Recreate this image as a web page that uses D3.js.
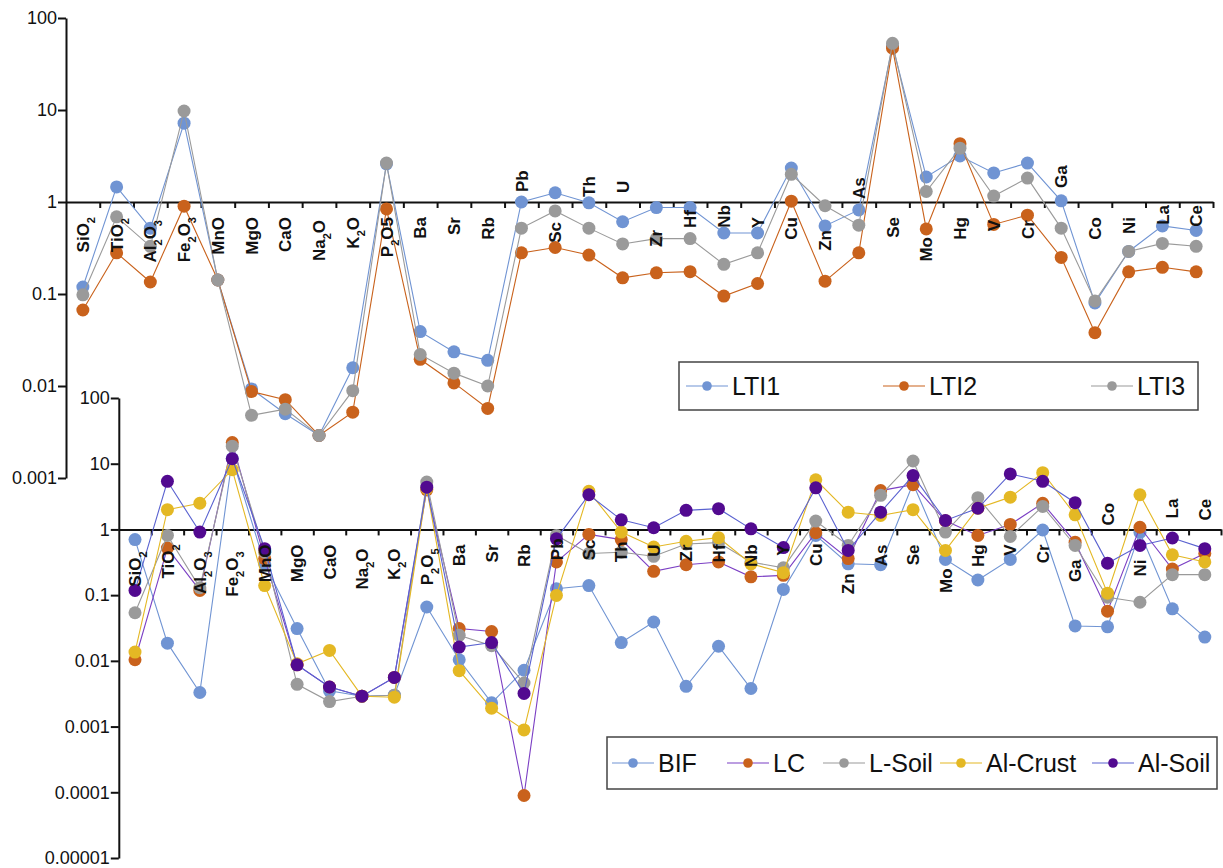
<!DOCTYPE html>
<html>
<head>
<meta charset="utf-8">
<script src="https://cdn.jsdelivr.net/npm/d3@7"></script>
<style>
  body { margin: 0; background: #fff; }
  svg { display: block; font-family: "Liberation Sans", Arial, sans-serif; }
</style>
</head>
<body>
<div id="vizcontainer"></div>
<script>
const categories = ['SiO2', 'TiO2', 'Al2O3', 'Fe2O3', 'MnO', 'MgO', 'CaO', 'Na2O', 'K2O', 'P2O5', 'Ba', 'Sr', 'Rb', 'Pb', 'Sc', 'Th', 'U', 'Zr', 'Hf', 'Nb', 'Y', 'Cu', 'Zn', 'As', 'Se', 'Mo', 'Hg', 'V', 'Cr', 'Ga', 'Co', 'Ni', 'La', 'Ce'];
// "_" marks the next character as a subscript
const topLabels = ['SiO_2', 'TiO_2', 'Al_2O_3', 'Fe_2O_3', 'MnO', 'MgO', 'CaO', 'Na_2O', 'K_2O', 'P_2O5', 'Ba', 'Sr', 'Rb', 'Pb', 'Sc', 'Th', 'U', 'Zr', 'Hf', 'Nb', 'Y', 'Cu', 'Zn', 'As', 'Se', 'Mo', 'Hg', 'V', 'Cr', 'Ga', 'Co', 'Ni', 'La', 'Ce'];
const bottomLabels = ['SiO_2', 'TiO_2', 'Al_2O_3', 'Fe_2O_3', 'MnO', 'MgO', 'CaO', 'Na_2O', 'K_2O', 'P_2O_5', 'Ba', 'Sr', 'Rb', 'Pb', 'Sc', 'Th', 'U', 'Zr', 'Hf', 'Nb', 'Y', 'Cu', 'Zn', 'As', 'Se', 'Mo', 'Hg', 'V', 'Cr', 'Ga', 'Co', 'Ni', 'La', 'Ce'];

const lti1 = [0.119, 1.46, 0.52, 7.2, 0.142, 0.0093, 0.005, 0.0029, 0.0158, 2.6, 0.039, 0.0235, 0.019, 1.0, 1.26, 0.98, 0.61, 0.87, 0.87, 0.46, 0.46, 2.34, 0.55, 0.82, 50, 1.87, 3.16, 2.07, 2.65, 1.03, 0.08, 0.29, 0.55, 0.49];
const lti2 = [0.067, 0.28, 0.135, 0.9, 0.142, 0.0087, 0.0071, 0.0029, 0.0052, 0.84, 0.0195, 0.0108, 0.0057, 0.28, 0.32, 0.265, 0.15, 0.17, 0.175, 0.095, 0.13, 1.02, 0.138, 0.28, 47, 0.51, 4.3, 0.57, 0.72, 0.25, 0.038, 0.174, 0.195, 0.174];
const lti3 = [0.098, 0.69, 0.33, 9.75, 0.142, 0.0048, 0.0056, 0.0029, 0.0089, 2.65, 0.022, 0.0138, 0.010, 0.52, 0.80, 0.52, 0.35, 0.40, 0.40, 0.21, 0.28, 2.0, 0.91, 0.56, 53, 1.3, 3.85, 1.16, 1.82, 0.52, 0.084, 0.29, 0.355, 0.33];

const bif = [0.70, 0.0186, 0.0033, 12, 0.3, 0.031, 0.0035, 0.0029, 0.003, 0.066, 0.0104, 0.0023, 0.0072, 0.125, 0.14, 0.019, 0.039, 0.0041, 0.0167, 0.0038, 0.122, 0.81, 0.30, 0.29, 5, 0.35, 0.17, 0.35, 0.98, 0.034, 0.033, 0.9, 0.062, 0.023];
const lc = [0.0104, 0.52, 0.118, 21, 0.36, 0.0087, 0.004, 0.0029, 0.0056, 4.0, 0.031, 0.028, 0.0000893, 0.32, 0.84, 0.70, 0.23, 0.29, 0.32, 0.19, 0.2, 0.89, 0.36, 3.9, 4.8, 1.35, 0.81, 1.19, 2.5, 0.64, 0.057, 1.08, 0.25, 0.43];
const lSoil = [0.054, 0.81, 0.13, 18.5, 0.45, 0.0044, 0.0024, 0.0029, 0.003, 5.25, 0.0245, 0.017, 0.0046, 0.81, 0.43, 0.45, 0.39, 0.6, 0.63, 0.32, 0.26, 1.34, 0.57, 3.3, 11, 0.91, 3.04, 0.78, 2.24, 0.57, 0.093, 0.078, 0.205, 0.205];
const alCrust = [0.0136, 2.0, 2.5, 8.1, 0.14, 0.009, 0.0144, 0.0029, 0.0028, 4.2, 0.0071, 0.0019, 0.00089, 0.099, 3.8, 0.91, 0.54, 0.66, 0.75, 0.30, 0.22, 5.7, 1.83, 1.63, 2.0, 0.48, 2.1, 3.1, 7.3, 1.67, 0.107, 3.37, 0.41, 0.32];
const alSoil = [0.118, 5.4, 0.91, 11.9, 0.51, 0.0087, 0.004, 0.0029, 0.0056, 4.4, 0.0162, 0.019, 0.0032, 0.72, 3.37, 1.4, 1.06, 1.95, 2.07, 1.02, 0.53, 4.3, 0.48, 1.83, 6.6, 1.37, 2.1, 7.0, 5.4, 2.55, 0.307, 0.57, 0.74, 0.51];

const topTicks = [100, 10, 1, 0.1, 0.01, 0.001],
  topTickLabels = ['100', '10', '1', '0.1', '0.01', '0.001'];
const bottomTicks = [100, 10, 1, 0.1, 0.01, 0.001, 0.0001, 0.00001],
  bottomTickLabels = ['100', '10', '1', '0.1', '0.01', '0.001', '0.0001', '0.00001'];

const
  width = 1223,
  height = 868,
  blue = '#7094d3',
  orange = '#c9621c',
  gray = '#9a9a9a',
  yellow = '#e4b824',
  purple = '#520a90';

// label placement tweaks (px below the default spot; 'up' = drawn above the axis)
const topLabelShift = { TiO2: 1, Al2O3: 3, Na2O: 3, Sc: 5, Zr: 13, Hf: -7, Nb: -12, Zn: 13, Mo: 20, V: 3, Cr: 3, La: -12, Ce: -12 };
const topLabelUp = { Pb: 10, Th: 5, U: 9, As: 3, Ga: 14 };
const bottomLabelShift = { SiO2: 7, Al2O3: 7, Fe2O3: 7, Na2O: 4, K2O: 4, P2O5: 4, Pb: -6, Sc: -5, Th: -3, Cu: -1, Zn: 29, Mo: 24, Ga: 15, Ni: 15 };
const bottomLabelUp = { Co: 4, La: 11, Ce: 9 };

let svg = d3.select('#vizcontainer')
  .append('svg')
  .attr('width', width)
  .attr('height', height);

function drawPanel(opts) {
  const g = svg.append('g');

  const x = d3.scaleBand()
    .domain(categories)
    .range(opts.xRange);

  const y = d3.scaleLog()
    .domain(opts.yDomain)
    .range(opts.yRange);

  // y axis
  const yAxis = g.append('g')
    .attr('transform', `translate(${opts.xRange[0]},0)`)
    .call(d3.axisLeft(y)
      .tickValues(opts.ticks)
      .tickFormat((d, i) => opts.tickLabels[i])
      .tickSizeInner(8)
      .tickSizeOuter(0));
  yAxis.select('.domain').attr('stroke', '#111').attr('stroke-width', 2);
  yAxis.selectAll('.tick line').attr('stroke', '#111').attr('stroke-width', 2);
  yAxis.selectAll('.tick text')
    .attr('font-size', 18)
    .attr('font-family', '"Liberation Sans", Arial, sans-serif')
    .attr('fill', '#111')
    .attr('x', -9);

  // category axis sitting on value 1
  const bounds = d3.scaleLinear().domain([0, categories.length]).range(opts.xRange);
  const xAxis = g.append('g')
    .attr('transform', `translate(0,${y(1)})`)
    .call(d3.axisBottom(bounds)
      .tickValues(d3.range(1, categories.length + 1))
      .tickFormat('')
      .tickSizeInner(6)
      .tickSizeOuter(0));
  xAxis.select('.domain').attr('stroke', '#111').attr('stroke-width', 2);
  xAxis.selectAll('.tick line').attr('stroke', '#111').attr('stroke-width', 2);

  // series
  const line = d3.line()
    .x((d, i) => x(categories[i]) + x.bandwidth() / 2)
    .y(d => y(d));

  opts.series.forEach(s => {
    const sg = g.append('g');
    sg.append('path')
      .datum(s.values)
      .attr('d', line)
      .attr('fill', 'none')
      .attr('stroke', s.line)
      .attr('stroke-width', 1.1);
    sg.selectAll('circle')
      .data(s.values)
      .join('circle')
      .attr('cx', (d, i) => x(categories[i]) + x.bandwidth() / 2)
      .attr('cy', d => y(d))
      .attr('r', 6.5)
      .attr('fill', s.marker);
  });

  // category labels, on top of the markers
  const axisY = y(1);
  categories.forEach((c, i) => {
    const cx = x(c) + x.bandwidth() / 2;
    let ty, anchor;
    if (opts.labelUp[c] !== undefined) {
      ty = axisY - opts.labelUp[c];
      anchor = 'start';
    } else {
      ty = axisY + 15 + (opts.labelShift[c] || 0);
      anchor = 'end';
    }
    const t = g.append('text')
      .attr('transform', `translate(${cx},${ty}) rotate(-90)`)
      .attr('text-anchor', anchor)
      .attr('dy', '0.36em')
      .attr('font-size', 17)
      .attr('font-weight', 'bold')
      .attr('fill', '#111');
    const parts = opts.labels[i].split('_');
    t.append('tspan').text(parts[0]);
    parts.slice(1).forEach(p => {
      t.append('tspan').attr('baseline-shift', 'sub').attr('font-size', 11).text(p[0]);
      if (p.length > 1) t.append('tspan').text(p.slice(1));
    });
  });

  // legend
  const lg = g.append('g');
  lg.append('rect')
    .attr('x', opts.legend.x)
    .attr('y', opts.legend.y)
    .attr('width', opts.legend.w)
    .attr('height', opts.legend.h)
    .attr('fill', 'none')
    .attr('stroke', '#444')
    .attr('stroke-width', 1.5);
  const ly = opts.legend.y + opts.legend.h / 2;
  opts.series.forEach((s, i) => {
    const lx = opts.legend.items[i];
    lg.append('line')
      .attr('x1', lx).attr('x2', lx + 42)
      .attr('y1', ly).attr('y2', ly)
      .attr('stroke', s.line)
      .attr('stroke-width', 1.1);
    lg.append('circle')
      .attr('cx', lx + 21).attr('cy', ly)
      .attr('r', 4.8)
      .attr('fill', s.marker);
    lg.append('text')
      .attr('x', lx + 46)
      .attr('y', ly)
      .attr('dy', '0.36em')
      .attr('font-size', 25)
      .attr('fill', '#111')
      .text(s.name);
  });
}

drawPanel({
  xRange: [66, 1213],
  yDomain: [0.001, 100],
  yRange: [478, 18],
  ticks: topTicks,
  tickLabels: topTickLabels,
  labels: topLabels,
  labelShift: topLabelShift,
  labelUp: topLabelUp,
  series: [
    { name: 'LTI1', values: lti1, line: blue, marker: blue },
    { name: 'LTI2', values: lti2, line: orange, marker: orange },
    { name: 'LTI3', values: lti3, line: gray, marker: gray }
  ],
  legend: { x: 679, y: 362, w: 519, h: 48, items: [686, 883, 1091] }
});

drawPanel({
  xRange: [118.8, 1221],
  yDomain: [0.00001, 100],
  yRange: [858, 398],
  ticks: bottomTicks,
  tickLabels: bottomTickLabels,
  labels: bottomLabels,
  labelShift: bottomLabelShift,
  labelUp: bottomLabelUp,
  series: [
    { name: 'BIF', values: bif, line: blue, marker: blue },
    { name: 'LC', values: lc, line: '#7b3fc4', marker: orange },
    { name: 'L-Soil', values: lSoil, line: gray, marker: gray },
    { name: 'Al-Crust', values: alCrust, line: yellow, marker: yellow },
    { name: 'Al-Soil', values: alSoil, line: '#5a62d0', marker: purple }
  ],
  legend: { x: 607, y: 737, w: 610, h: 52, items: [612, 727, 823, 940, 1092] }
});
</script>
</body>
</html>
